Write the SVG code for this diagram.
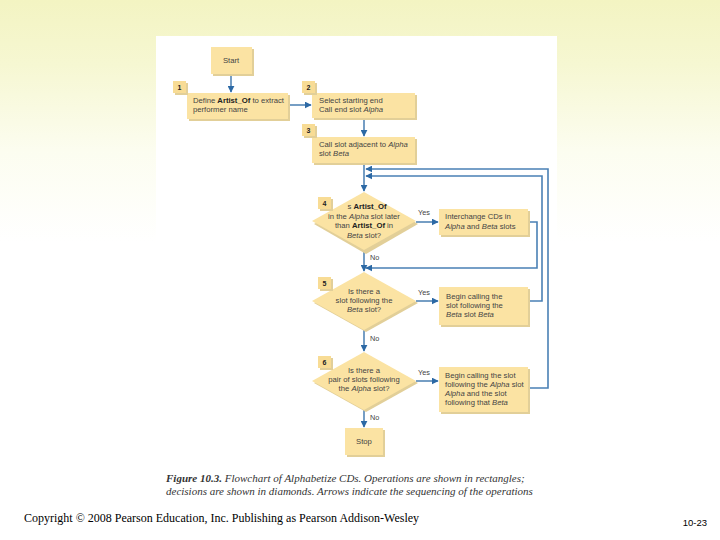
<svg xmlns="http://www.w3.org/2000/svg" width="720" height="540" viewBox="0 0 720 540">
<defs>
<linearGradient id="bg" x1="0" y1="0" x2="0" y2="1">
<stop offset="0" stop-color="#f3f4c2"/>
<stop offset="0.12" stop-color="#f6f7d2"/>
<stop offset="0.28" stop-color="#fcfdf0"/>
<stop offset="0.45" stop-color="#ffffff"/>
</linearGradient>
<marker id="ah" viewBox="0 0 10 10" refX="9" refY="5" markerWidth="7" markerHeight="7" markerUnits="userSpaceOnUse" orient="auto">
<path d="M0,0 L10,5 L0,10 z" fill="#2c69a5"/>
</marker>
</defs>
<style>
.box{fill:#fbe3a3;}
.sh{fill:#e2cf98;}
.badge{fill:#f8dc95;}
.t{font-family:"Liberation Sans",Arial,sans-serif;font-size:7.7px;fill:#444;}
.tc{font-family:"Liberation Sans",Arial,sans-serif;font-size:7.7px;fill:#444;text-anchor:middle;}
.bn{font-family:"Liberation Sans",Arial,sans-serif;font-size:7px;font-weight:bold;fill:#222;text-anchor:middle;}
.b{font-weight:bold;fill:#222;}
.i{font-style:italic;}
.ln{fill:none;stroke:#2c69a5;stroke-width:1.3;}
.lp{fill:none;stroke:#4a80b5;stroke-width:1.6;}
.lab{font-family:"Liberation Sans",Arial,sans-serif;font-size:7.3px;fill:#444;}
.cap{font-family:"Liberation Serif","Times New Roman",serif;font-size:11px;font-style:italic;fill:#333;}
</style>
<rect x="0" y="0" width="720" height="540" fill="url(#bg)"/>
<rect x="156" y="36" width="401" height="464" fill="#ffffff"/>

<g id="connectors">
<line class="ln" x1="231" y1="74" x2="231" y2="92" marker-end="url(#ah)"/>
<line class="ln" x1="290" y1="105" x2="311" y2="105" marker-end="url(#ah)"/>
<line class="ln" x1="364" y1="118" x2="364" y2="136" marker-end="url(#ah)"/>
<line class="ln" x1="364" y1="163" x2="364" y2="191" marker-end="url(#ah)"/>
<line class="ln" x1="364" y1="250" x2="364" y2="271" marker-end="url(#ah)"/>
<line class="ln" x1="364" y1="330" x2="364" y2="351" marker-end="url(#ah)"/>
<line class="ln" x1="364" y1="410" x2="364" y2="427" marker-end="url(#ah)"/>
<line class="ln" x1="416" y1="222" x2="438" y2="222" marker-end="url(#ah)"/>
<line class="ln" x1="416" y1="301" x2="438" y2="301" marker-end="url(#ah)"/>
<line class="ln" x1="416" y1="381" x2="438" y2="381" marker-end="url(#ah)"/>
<polyline class="lp" points="528,222 537,222 537,268 366,268" marker-end="url(#ah)"/>
<polyline class="lp" points="528,301 542,301 542,176 366,176" marker-end="url(#ah)"/>
<polyline class="lp" points="528,388 548,388 548,169 366,169" marker-end="url(#ah)"/>
<text class="lab" x="418" y="215">Yes</text>
<text class="lab" x="370" y="260">No</text>
<text class="lab" x="418" y="295">Yes</text>
<text class="lab" x="370" y="341">No</text>
<text class="lab" x="418" y="375">Yes</text>
<text class="lab" x="370" y="420">No</text>
</g>

<g id="start">
<rect class="sh" x="213" y="49" width="41" height="27"/>
<rect class="box" x="211" y="47" width="41" height="27"/>
<text class="tc" x="231" y="63">Start</text>
</g>

<g id="step1">
<rect class="sh" x="189" y="95" width="101" height="26"/>
<rect class="box" x="187" y="93" width="101" height="26"/>
<rect class="sh" x="175" y="83" width="13" height="12"/>
<rect class="badge" x="173" y="81" width="13" height="12"/>
<text class="bn" x="179.5" y="90">1</text>
<text class="t" x="193" y="103">Define <tspan class="b">Artist_Of</tspan> to extract</text>
<text class="t" x="193" y="112">performer name</text>
</g>

<g id="step2">
<rect class="sh" x="314" y="95" width="103" height="25"/>
<rect class="box" x="312" y="93" width="103" height="25"/>
<rect class="sh" x="304" y="83" width="13" height="12"/>
<rect class="badge" x="302" y="81" width="13" height="12"/>
<text class="bn" x="308.5" y="90">2</text>
<text class="t" x="319" y="103">Select starting end</text>
<text class="t" x="319" y="112">Call end slot <tspan class="i">Alpha</tspan></text>
</g>

<g id="step3">
<rect class="sh" x="314" y="139" width="103" height="26"/>
<rect class="box" x="312" y="137" width="103" height="26"/>
<rect class="sh" x="304" y="126" width="13" height="12"/>
<rect class="badge" x="302" y="124" width="13" height="12"/>
<text class="bn" x="308.5" y="133">3</text>
<text class="t" x="319" y="147">Call slot adjacent to <tspan class="i">Alpha</tspan></text>
<text class="t" x="319" y="156">slot <tspan class="i">Beta</tspan></text>
</g>

<g id="decision4">
<polygon class="sh" points="366,194 418,224 366,254 314,224"/>
<polygon class="box" points="364,192 416,221 364,250 312,221"/>
<rect class="sh" x="320" y="199" width="13" height="12"/>
<rect class="badge" x="318" y="197" width="13" height="12"/>
<text class="bn" x="324.5" y="206">4</text>
<text class="tc" x="367" y="209">s <tspan class="b">Artist_Of</tspan></text>
<text class="tc" x="364" y="219">in the <tspan class="i">Alpha</tspan> slot later</text>
<text class="tc" x="364" y="228">than <tspan class="b">Artist_Of</tspan> in</text>
<text class="tc" x="364" y="238"><tspan class="i">Beta</tspan> slot?</text>
</g>

<g id="interchange">
<rect class="sh" x="441" y="211" width="89" height="26"/>
<rect class="box" x="439" y="209" width="89" height="26"/>
<text class="t" x="445" y="219">Interchange CDs in</text>
<text class="t" x="445" y="229"><tspan class="i">Alpha</tspan> and <tspan class="i">Beta</tspan> slots</text>
</g>

<g id="decision5">
<polygon class="sh" points="366,274 418,303 366,332 314,303"/>
<polygon class="box" points="364,272 416,301 364,330 312,301"/>
<rect class="sh" x="320" y="279" width="13" height="12"/>
<rect class="badge" x="318" y="277" width="13" height="12"/>
<text class="bn" x="324.5" y="286">5</text>
<text class="tc" x="364" y="294">Is there a</text>
<text class="tc" x="364" y="303">slot following the</text>
<text class="tc" x="364" y="312"><tspan class="i">Beta</tspan> slot?</text>
</g>

<g id="step5">
<rect class="sh" x="441" y="289" width="89" height="38"/>
<rect class="box" x="439" y="287" width="89" height="38"/>
<text class="t" x="446" y="299">Begin calling the</text>
<text class="t" x="446" y="308">slot following the</text>
<text class="t" x="446" y="317"><tspan class="i">Beta</tspan> slot <tspan class="i">Beta</tspan></text>
</g>

<g id="decision6">
<polygon class="sh" points="366,354 418,383 366,412 314,383"/>
<polygon class="box" points="364,352 416,381 364,410 312,381"/>
<rect class="sh" x="320" y="358" width="13" height="12"/>
<rect class="badge" x="318" y="356" width="13" height="12"/>
<text class="bn" x="324.5" y="365">6</text>
<text class="tc" x="364" y="373">Is there a</text>
<text class="tc" x="364" y="382">pair of slots following</text>
<text class="tc" x="364" y="391">the <tspan class="i">Alpha</tspan> slot?</text>
</g>

<g id="step6">
<rect class="sh" x="441" y="369" width="89" height="45"/>
<rect class="box" x="439" y="367" width="89" height="45"/>
<text class="t" x="445" y="378">Begin calling the slot</text>
<text class="t" x="445" y="387">following the <tspan class="i">Alpha</tspan> slot</text>
<text class="t" x="445" y="396"><tspan class="i">Alpha</tspan> and the slot</text>
<text class="t" x="445" y="405">following that <tspan class="i">Beta</tspan></text>
</g>

<g id="stop">
<rect class="sh" x="347" y="430" width="38" height="27"/>
<rect class="box" x="345" y="428" width="38" height="27"/>
<text class="tc" x="364" y="444">Stop</text>
</g>

<g id="caption">
<text class="cap" x="166" y="482"><tspan font-weight="bold">Figure 10.3.</tspan> Flowchart of Alphabetize CDs. Operations are shown in rectangles;</text>
<text class="cap" x="166" y="495">decisions are shown in diamonds. Arrows indicate the sequencing of the operations</text>
</g>

<text x="24" y="522" font-family="Liberation Serif,'Times New Roman',serif" font-size="12" fill="#000">Copyright © 2008 Pearson Education, Inc. Publishing as Pearson Addison-Wesley</text>
<text x="707" y="526" text-anchor="end" font-family="Liberation Sans,Arial,sans-serif" font-size="9.5" fill="#000">10-23</text>
</svg>
